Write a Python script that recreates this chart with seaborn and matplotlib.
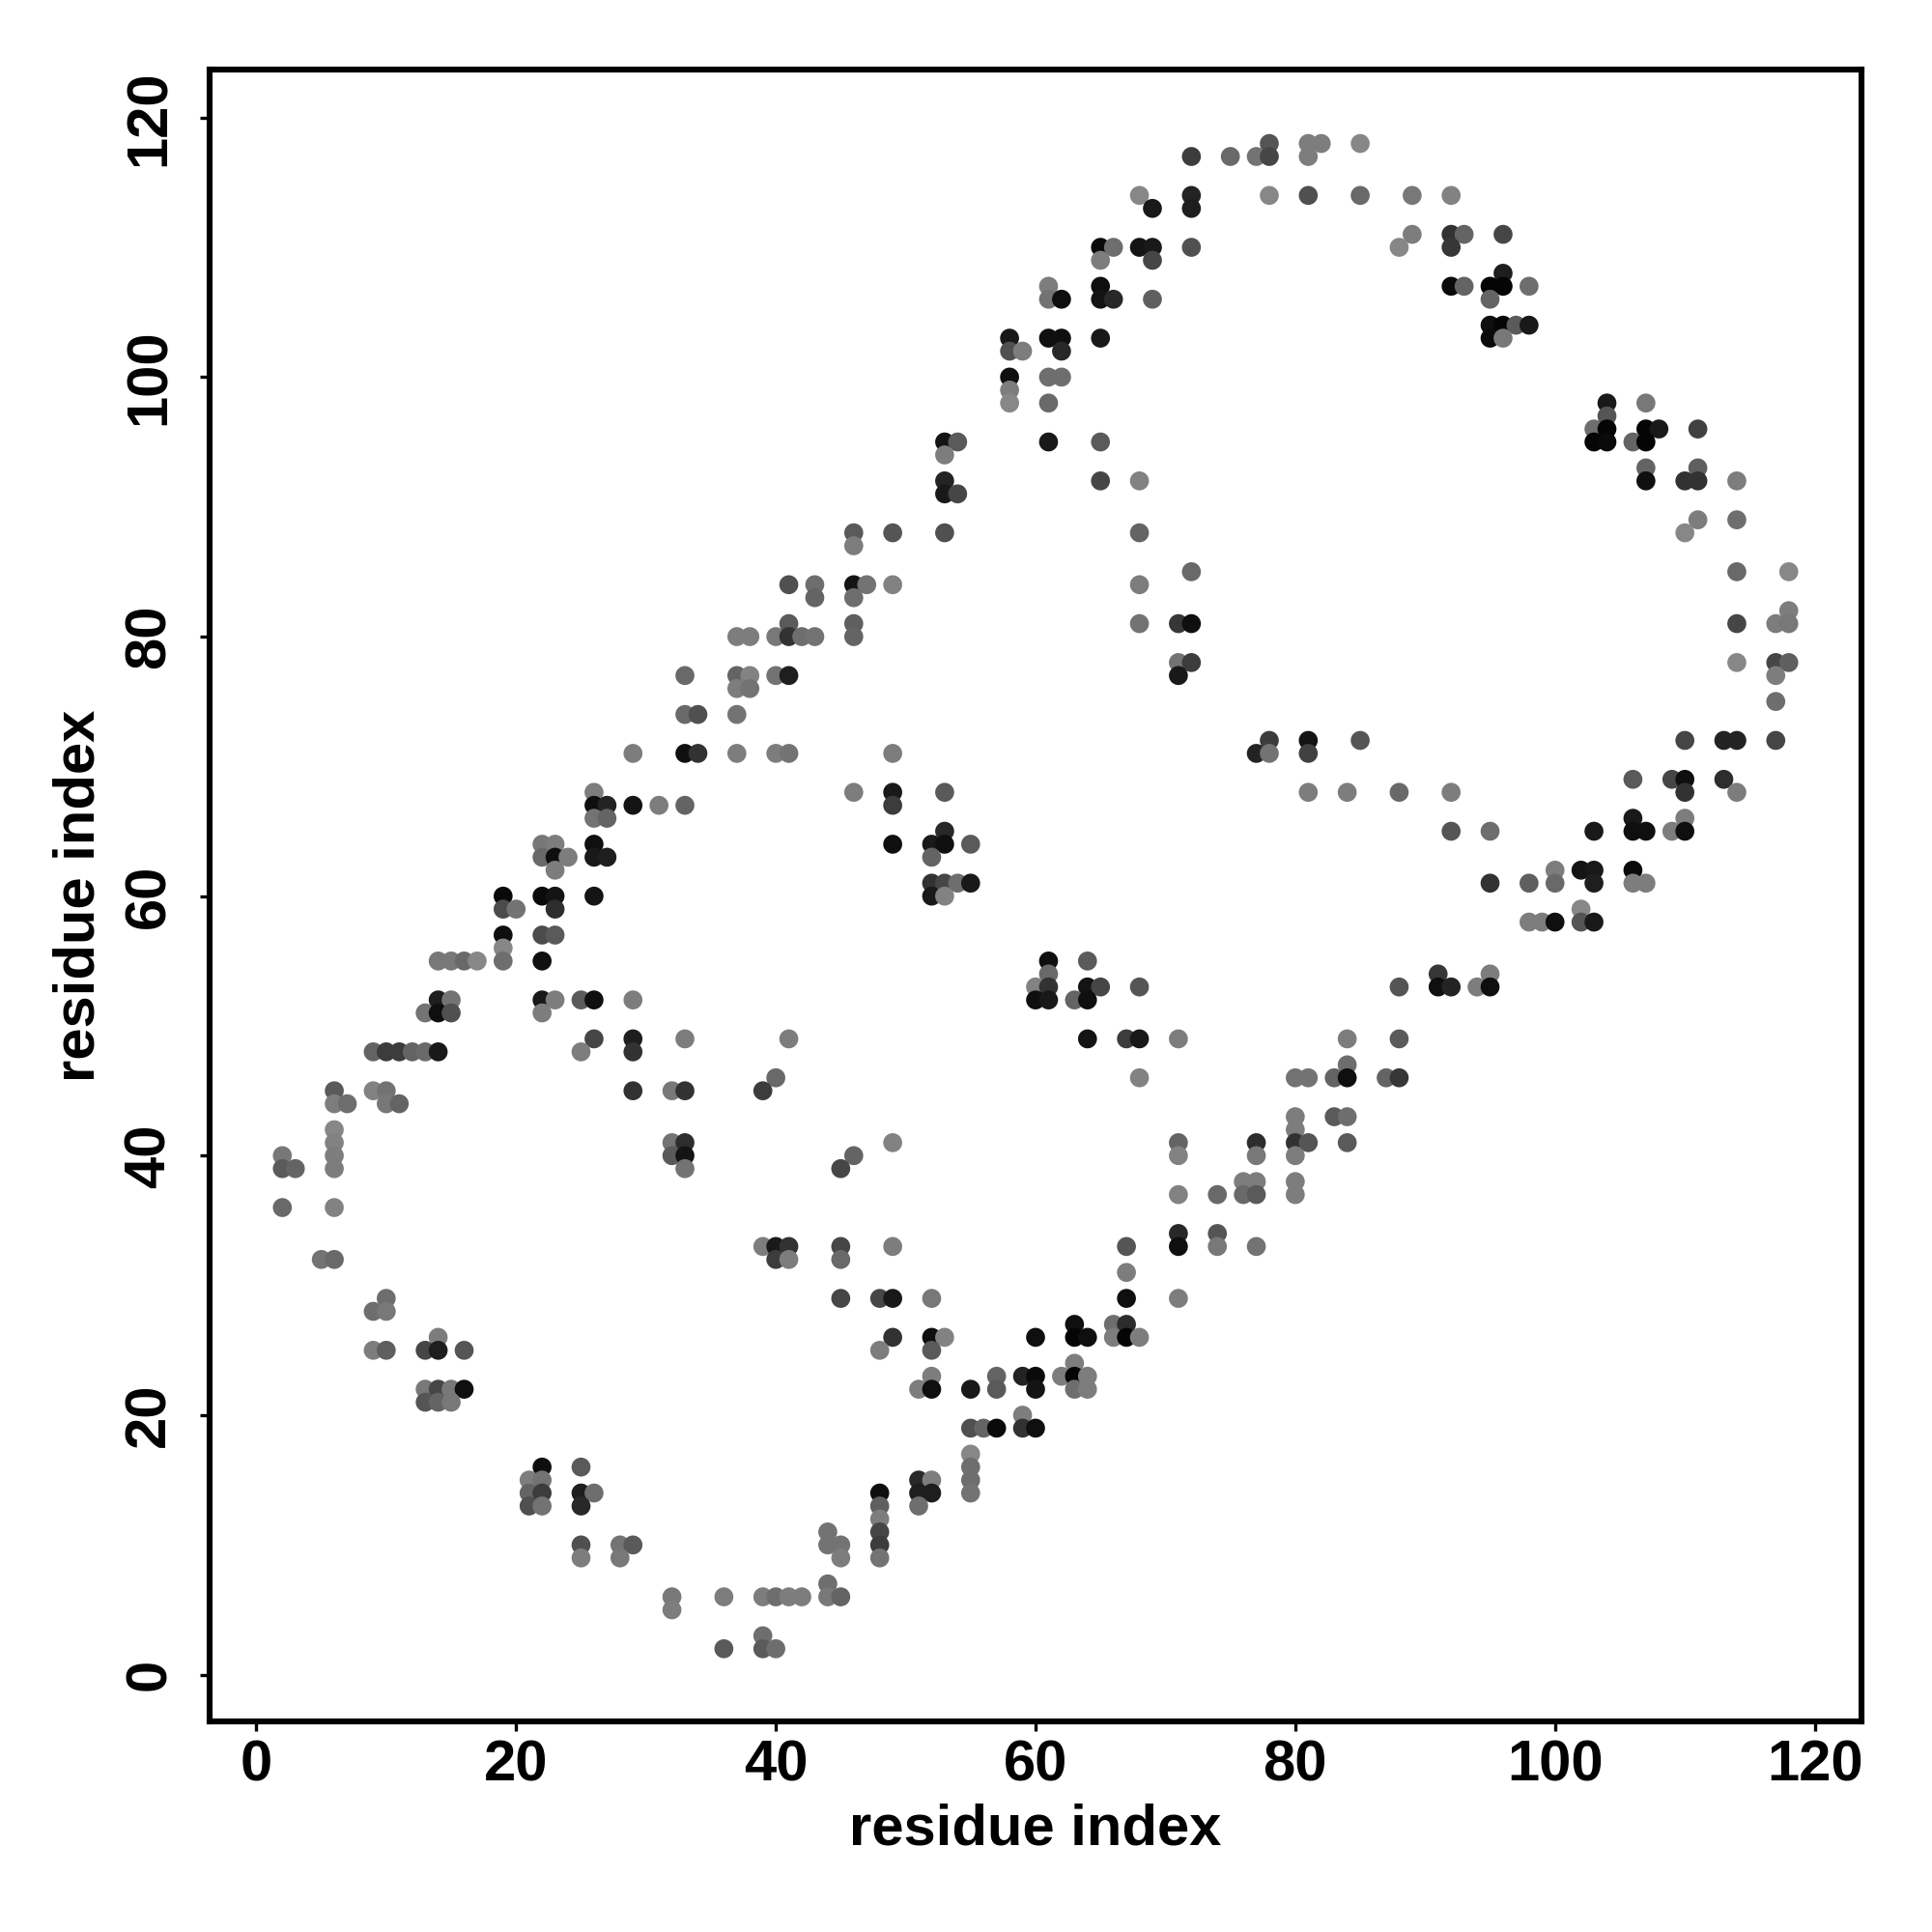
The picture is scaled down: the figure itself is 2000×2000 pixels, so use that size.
import matplotlib
matplotlib.use("Agg")
import matplotlib.pyplot as plt
import pandas as pd
import seaborn as sns

# contact rows, top to bottom: one y value, the x values on it, their grey level
row_y = [118, 117, 114, 113, 111, 110, 109, 108, 107, 106, 104, 103, 102, 100, 99, 98, 97, 96, 95, 94,
         93, 92, 91, 89, 88, 87, 85, 84, 83, 82, 81, 80, 78, 77, 76, 75, 74, 72, 71, 69,
         68, 67, 66, 65, 64, 63, 62, 61, 60, 59, 58, 57, 56, 55, 54, 53, 52, 51, 49, 48,
         47, 46, 45, 44, 43, 42, 41, 40, 39, 38, 37, 36, 34, 33, 32, 31, 29, 28, 27, 26,
         25, 24, 23, 22, 21, 20, 19, 17, 16, 15, 14, 13, 12, 11, 10, 9, 7, 6, 5, 3, 2]

row_x = [
    [78, 81, 82, 85],
    [72, 75, 77, 78, 81],
    [68, 72, 78, 81, 85, 89, 92],
    [69, 72],
    [89, 92, 93, 96],
    [65, 66, 68, 69, 72, 88, 92],
    [65, 69],
    [96],
    [61, 65, 92, 93, 95, 96, 98],
    [61, 62, 65, 66, 69, 95],
    [95, 96, 97, 98],
    [58, 61, 62, 65, 95, 96],
    [58, 59, 62],
    [58, 61, 62],
    [58],
    [58, 61, 104, 107],
    [104],
    [103, 104, 107, 108, 111],
    [53, 54, 61, 65, 103, 104, 106, 107],
    [53],
    [107, 111],
    [53, 65, 68, 107, 110, 111, 114],
    [53, 54],
    [111, 114],
    [46, 49, 53, 68, 110],
    [46],
    [72, 114, 118],
    [41, 43, 46, 47, 49, 68],
    [43, 46],
    [118],
    [41, 46, 68, 71, 72, 114, 117, 118],
    [37, 38, 40, 41, 42, 43, 46],
    [71, 72, 114, 117, 118],
    [33, 37, 38, 40, 41, 71, 117],
    [37, 38],
    [117],
    [33, 34, 37],
    [78, 81, 85, 110, 113, 114, 117],
    [29, 33, 34, 37, 40, 41, 49, 77, 78, 81],
    [106, 109, 110, 113],
    [26, 46, 49, 53, 81, 84, 88, 92, 110, 114],
    [26, 27, 29, 31, 33, 49],
    [26, 27, 106, 110],
    [53, 92, 95, 103, 106, 107, 109, 110],
    [22, 23, 26, 49, 52, 53, 55],
    [22, 23, 24, 26, 27, 52],
    [23, 100, 102, 103, 106],
    [52, 53, 54, 55, 95, 98, 100, 103, 106, 107],
    [19, 22, 23, 26, 52, 53],
    [19, 20, 23, 102],
    [98, 99, 100, 102, 103],
    [19, 22, 23],
    [19],
    [14, 15, 16, 17, 19, 22, 61, 64],
    [61, 91, 95],
    [60, 61, 64, 65, 68, 88, 91, 92, 94, 95],
    [14, 15, 22, 23, 25, 26, 29, 60, 61, 63, 64],
    [13, 14, 15, 22],
    [26, 29, 33, 41, 64, 67, 68, 71, 84, 88],
    [9, 10, 11, 12, 13, 14, 25, 29],
    [84],
    [40, 68, 80, 81, 83, 84, 87, 88],
    [6, 9, 10, 29, 32, 33, 39],
    [6, 7, 10, 11],
    [80, 83, 84],
    [6, 80],
    [6, 32, 33, 49, 71, 77, 80, 81, 84],
    [2, 6, 32, 33, 46, 71, 77, 80],
    [2, 3, 6, 33, 45],
    [76, 77, 80],
    [71, 74, 76, 77, 80],
    [2, 6],
    [71, 74],
    [39, 40, 41, 45, 49, 67, 71, 74, 77],
    [5, 6, 40, 41, 45],
    [67],
    [10, 45, 48, 49, 52, 67, 71],
    [9, 10],
    [63, 66, 67],
    [14, 49, 52, 53, 60, 63, 64, 66, 67, 68],
    [9, 10, 13, 14, 16, 48, 52],
    [63],
    [52, 57, 59, 60, 62, 63, 64],
    [13, 14, 15, 16, 51, 52, 55, 57, 60, 63, 64],
    [13, 14, 15],
    [59],
    [55, 56, 57, 59, 60],
    [55],
    [22, 25, 55],
    [21, 22, 51, 52, 55],
    [21, 22, 25, 26, 48, 51, 52, 55],
    [21, 22, 25, 48, 51],
    [48],
    [44, 48],
    [25, 28, 29, 44, 45, 48],
    [25, 28, 45, 48],
    [44],
    [32, 36, 39, 40, 41, 42, 44, 45],
    [32],
    [39],
    [36, 39, 40],
]

row_gray = [
    [85, 125, 125, 135],
    [60, 105, 115, 70, 125],
    [135, 35, 135, 80, 105, 120, 130],
    [25, 30],
    [125, 50, 100, 70],
    [10, 110, 20, 25, 80, 135, 55],
    [125, 70],
    [30],
    [125, 15, 10, 100, 5, 5, 110],
    [115, 15, 20, 40, 95, 100],
    [15, 5, 90, 25],
    [25, 15, 15, 25, 10, 120],
    [80, 125, 40],
    [15, 110, 110],
    [125],
    [135, 105, 25, 120],
    [85],
    [110, 5, 5, 25, 65],
    [20, 90, 25, 90, 5, 10, 100, 5],
    [125],
    [100, 95],
    [35, 70, 130, 15, 50, 50, 125],
    [25, 70],
    [125, 110],
    [90, 85, 80, 100, 135],
    [125],
    [105, 105, 135],
    [80, 110, 20, 115, 130, 125],
    [100, 110],
    [125],
    [90, 95, 115, 55, 15, 70, 125, 120],
    [125, 125, 120, 50, 110, 115, 100],
    [115, 60, 135, 70, 95],
    [105, 100, 130, 115, 30, 25, 125],
    [125, 115],
    [110],
    [105, 80, 115],
    [60, 20, 85, 70, 35, 35, 70],
    [125, 15, 50, 125, 125, 115, 125, 35, 115, 65],
    [90, 70, 15, 45],
    [125, 125, 25, 90, 125, 125, 105, 125, 50, 125],
    [15, 35, 20, 125, 100, 60],
    [115, 100, 25, 125],
    [40, 85, 110, 25, 15, 15, 125, 15],
    [120, 125, 15, 15, 25, 15, 90],
    [105, 15, 125, 25, 30, 100],
    [125, 125, 20, 25, 10],
    [50, 70, 110, 25, 50, 95, 105, 30, 125, 125],
    [10, 10, 20, 20, 25, 130],
    [75, 115, 45, 135],
    [125, 125, 15, 85, 25],
    [15, 75, 90],
    [135],
    [120, 120, 105, 135, 110, 15, 15, 90],
    [105, 55, 125],
    [130, 50, 20, 70, 85, 85, 15, 35, 125, 15],
    [30, 115, 25, 125, 90, 15, 125, 15, 25, 100, 15],
    [115, 15, 80, 125],
    [70, 30, 125, 125, 20, 60, 25, 125, 125, 90],
    [100, 60, 60, 100, 105, 25, 125, 50],
    [110],
    [105, 130, 115, 115, 100, 15, 100, 55],
    [90, 130, 115, 50, 120, 50, 60],
    [125, 110, 120, 100],
    [125, 90, 110],
    [135, 125],
    [130, 115, 45, 130, 100, 45, 50, 85, 90],
    [120, 125, 90, 20, 100, 130, 120, 125],
    [90, 100, 125, 115, 70],
    [125, 125, 125],
    [130, 105, 105, 90, 125],
    [105, 130],
    [40, 85],
    [125, 25, 50, 70, 125, 85, 15, 120, 115],
    [115, 105, 60, 125, 105],
    [125],
    [110, 70, 70, 25, 120, 15, 125],
    [110, 120],
    [15, 110, 45],
    [125, 50, 15, 130, 15, 5, 15, 125, 5, 125],
    [125, 95, 70, 30, 85, 125, 90],
    [125],
    [125, 100, 35, 10, 125, 5, 125],
    [120, 70, 120, 15, 125, 15, 25, 90, 20, 110, 125],
    [85, 100, 120],
    [125],
    [80, 100, 10, 50, 15],
    [135],
    [15, 90, 110],
    [125, 115, 40, 125, 110],
    [100, 60, 30, 110, 15, 30, 30, 115],
    [80, 115, 40, 95, 110],
    [125],
    [115, 70],
    [80, 115, 90, 115, 115, 60],
    [125, 120, 125, 115],
    [110],
    [120, 125, 125, 110, 125, 125, 120, 100],
    [125],
    [110],
    [90, 90, 110],
]

tick_values = [0, 20, 40, 60, 80, 100, 120]

rows = []
for y, xs, grays in zip(row_y, row_x, row_gray):
    for x, g in zip(xs, grays):
        rows.append({"x": x, "y": y, "gray": g})
df = pd.DataFrame(rows)

sns.set_style("white")
plt.rcParams["font.family"] = ["Liberation Sans", "DejaVu Sans"]
plt.rcParams["font.weight"] = "bold"

fig = plt.figure(figsize=(10, 10), dpi=200)
ax = fig.add_axes([0.1085, 0.109, 0.855, 0.855])

sns.scatterplot(data=df, x="x", y="y", hue="gray", palette="gray", hue_norm=(0, 255),
                s=50, linewidth=0, legend=False, ax=ax)

ax.set_xlim(-3.6, 123.6)
ax.set_ylim(-3.6, 123.7)
ax.set_xticks(tick_values)
ax.set_yticks(tick_values)
ax.set_xlabel("residue index", fontsize=21.5, fontweight="bold", color="black", labelpad=4)
ax.set_ylabel("residue index", fontsize=21.5, fontweight="bold", color="black", labelpad=6.5)
ax.tick_params(axis="both", which="major", bottom=True, left=True, length=3.5, width=1.2,
               labelsize=21.5, color="black", labelcolor="black", pad=3)
ax.tick_params(axis="y", pad=8.8)
for label in ax.get_yticklabels():
    label.set_rotation(90)
    label.set_verticalalignment("center")

for spine in ax.spines.values():
    spine.set_visible(True)
    spine.set_color("black")
    spine.set_linewidth(2.2)

fig.savefig("out.png", dpi=200, facecolor="white")
